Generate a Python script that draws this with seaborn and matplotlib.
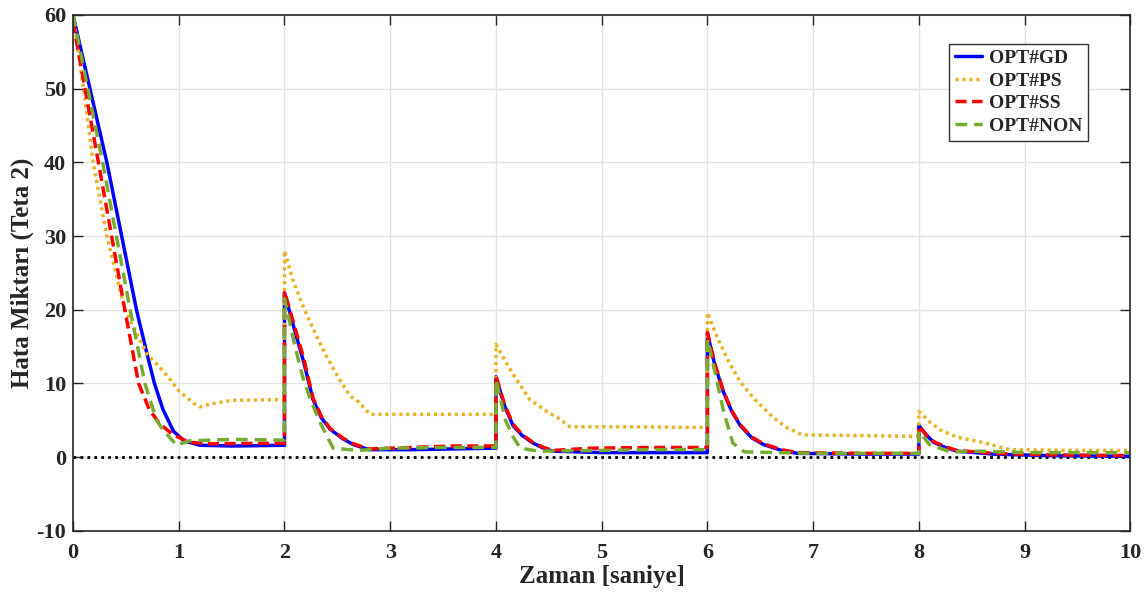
import matplotlib.pyplot as plt
import pandas as pd
import seaborn as sns

# Zaman [s] / hata degerleri
gd_t = [0, 0.32, 0.6, 0.7, 0.77, 0.85, 0.95, 1.05, 1.2, 1.5, 2.0,
        2.0, 2.1, 2.18, 2.27, 2.35, 2.43, 2.55, 2.65, 2.8, 3.2, 3.6, 4.0,
        4.0, 4.08, 4.16, 4.25, 4.35, 4.45, 4.54, 5.0, 5.5, 6.0,
        6.0, 6.07, 6.15, 6.23, 6.31, 6.42, 6.53, 6.7, 6.85, 7.5, 8.0,
        8.0, 8.07, 8.14, 8.25, 8.36, 8.7, 9.2, 10]
gd_v = [60, 40, 20, 14, 10, 6.5, 3.5, 2.2, 1.6, 1.5, 1.6,
        22.3, 17, 13, 7.8, 5.3, 3.8, 2.5, 1.7, 1.0, 1.0, 1.1, 1.2,
        10.9, 7, 4.3, 2.9, 1.9, 1.2, 0.8, 0.6, 0.6, 0.6,
        16.8, 12.5, 8.9, 6.2, 4.3, 2.6, 1.7, 0.9, 0.5, 0.4, 0.4,
        4.3, 3.0, 2.0, 1.3, 0.8, 0.4, 0.2, 0.1]

ps_t = [0, 0.1, 0.19, 0.32, 0.49, 0.7, 0.82, 0.92, 1.0, 1.14, 1.2, 1.3, 1.5, 2.0,
        2.0, 2.08, 2.18, 2.3, 2.4, 2.5, 2.62, 2.7, 2.81, 3.3, 4.0,
        4.0, 4.05, 4.15, 4.32, 4.5, 4.6, 4.7, 5.3, 6.0,
        6.0, 6.1, 6.2, 6.31, 6.45, 6.62, 6.75, 6.9, 7.5, 8.0,
        8.0, 8.1, 8.2, 8.36, 8.6, 8.86, 9.5, 10]
ps_v = [60, 50, 40, 30, 20, 14, 12.2, 10.5, 9, 7.3, 6.8, 7.2, 7.7, 7.8,
        28, 24, 20.3, 16.5, 13.6, 11, 8.3, 7.5, 5.8, 5.8, 5.8,
        15.3, 14, 11.5, 7.8, 6.0, 5.2, 4.1, 4.1, 4.0,
        19.6, 16, 13, 10.2, 7.8, 5.4, 4.0, 3.0, 2.9, 2.8,
        6.2, 4.8, 3.7, 2.7, 2.0, 1.0, 0.9, 0.9]

ss_t = [0, 0.24, 0.49, 0.62, 0.72, 0.82, 0.95, 1.1, 1.3, 2.0,
        2.0, 2.1, 2.18, 2.27, 2.35, 2.43, 2.55, 2.65, 2.8, 3.2, 3.6, 4.0,
        4.0, 4.08, 4.16, 4.25, 4.35, 4.45, 4.54, 4.9, 5.5, 6.0,
        6.0, 6.07, 6.15, 6.23, 6.31, 6.42, 6.53, 6.7, 6.85, 7.5, 8.0,
        8.0, 8.07, 8.14, 8.25, 8.36, 8.7, 9.2, 10]
ss_v = [59, 40, 20, 10, 6.5, 4.5, 3.0, 2.0, 1.8, 1.9,
        22.5, 17.5, 13.5, 8.0, 5.5, 3.9, 2.6, 1.8, 1.1, 1.3, 1.5, 1.5,
        11.0, 7.2, 4.5, 3.0, 2.0, 1.3, 0.9, 1.2, 1.3, 1.3,
        16.9, 12.7, 9.0, 6.3, 4.4, 2.7, 1.8, 1.0, 0.6, 0.5, 0.5,
        4.2, 3.0, 2.1, 1.4, 0.9, 0.5, 0.3, 0.2]

non_t = [0, 0.28, 0.54, 0.68, 0.79, 0.85, 0.98, 1.1, 1.5, 2.0,
         2.0, 2.1, 2.17, 2.24, 2.34, 2.46, 2.7, 3.0, 3.5, 4.0,
         4.0, 4.05, 4.09, 4.16, 4.23, 4.4, 5.0, 5.5, 6.0,
         6.0, 6.08, 6.15, 6.24, 6.35, 7.0, 7.5, 8.0,
         8.0, 8.1, 8.3, 8.6, 9.0, 9.5, 10]
non_v = [60, 40, 20, 10, 5, 3.7, 1.6, 2.2, 2.4, 2.3,
         21.5, 15, 11, 8, 4.6, 1.2, 0.9, 1.2, 1.3, 1.3,
         10.5, 7.5, 5, 2.8, 1.2, 0.8, 0.9, 1.0, 1.0,
         16, 11, 6.4, 1.9, 0.7, 0.5, 0.5, 0.5,
         3.5, 1.7, 0.7, 0.8, 0.6, 0.6, 0.6]

labels = ["OPT#GD", "OPT#PS", "OPT#SS", "OPT#NON"]
colors = ["#0000FF", "#EDB120", "#FF0000", "#77AC30"]
dashes = [None, (0.9, 1.1), (3.2, 1.6), (3.4, 2.0)]

sns.set_theme(style="whitegrid")
plt.rcParams["font.family"] = ["Liberation Serif", "DejaVu Serif"]
plt.rcParams["font.weight"] = "bold"
plt.rcParams["axes.unicode_minus"] = False

fig = plt.figure(figsize=(11.48, 5.99), dpi=100)
ax = fig.add_axes([0.0636, 0.114, 0.921, 0.861])

series = [(gd_t, gd_v), (ps_t, ps_v), (ss_t, ss_v), (non_t, non_v)]
for (t, v), lab, col, dsh in zip(series, labels, colors, dashes):
    df = pd.DataFrame({"t": t, "v": v})
    sns.lineplot(data=df, x="t", y="v", estimator=None, sort=False, color=col,
                 linewidth=2.5, label=lab, ax=ax)
    if dsh is not None:
        ax.get_lines()[-1].set_dashes(dsh)

ax.axhline(0, color="black", linestyle=(0, (1, 1.5)), linewidth=2, zorder=1)

ax.set_xlim(0, 10)
ax.set_ylim(-10, 60)
ax.set_xticks(range(0, 11))
ax.set_yticks(range(-10, 61, 10))
ax.set_xlabel("Zaman [saniye]", fontsize=18, fontweight="bold", labelpad=1)
ax.set_ylabel("Hata Miktarı (Teta 2)", fontsize=18, fontweight="bold", labelpad=2)
ax.tick_params(axis="both", labelsize=16, direction="in", length=7, width=1,
               top=True, right=True, bottom=True, left=True)
ax.tick_params(axis="x", pad=9)
ax.tick_params(axis="y", pad=5)
for lab in ax.get_xticklabels() + ax.get_yticklabels():
    lab.set_fontweight("bold")
ax.grid(True, color="#e3e3e3", linewidth=1)
ax.set_facecolor("white")
for s in ax.spines.values():
    s.set_color("#262626")
    s.set_linewidth(1.2)

leg = ax.legend(loc="upper right", bbox_to_anchor=(0.960, 0.944),
                prop={"weight": "bold", "size": 14}, handlelength=1.4, handletextpad=0.35,
                borderpad=0.3, labelspacing=0.25, fancybox=False, framealpha=1,
                edgecolor="#333333", borderaxespad=0)
leg.get_frame().set_linewidth(1)

fig.savefig("out.png", dpi=100)
